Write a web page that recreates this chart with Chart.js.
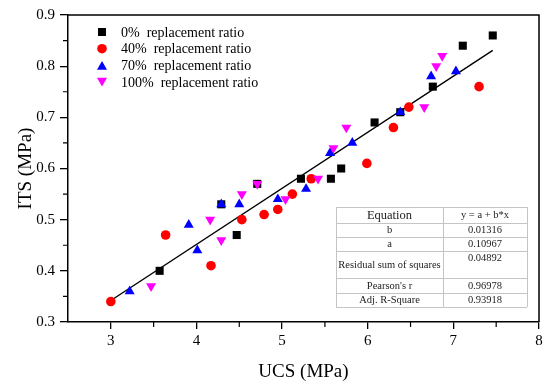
<!DOCTYPE html>
<html><head><meta charset="utf-8">
<script src="https://cdn.jsdelivr.net/npm/chart.js@4/dist/chart.umd.min.js"></script>
<style>html,body{margin:0;padding:0;background:#fff}</style>
</head><body>
<canvas id="c" width="550" height="387"></canvas>
<script>
// ---- data ----
const seriesNames = ['0%  replacement ratio', '40%  replacement ratio', '70%  replacement ratio', '100%  replacement ratio'];
const ucs0 = [3.57, 4.29, 4.47, 4.71, 5.22, 5.57, 5.69, 6.08, 6.38, 6.76, 7.11, 7.46];
const its0 = [0.40, 0.53, 0.47, 0.57, 0.58, 0.58, 0.60, 0.69, 0.71, 0.76, 0.84, 0.86];
const ucs40 = [3.00, 3.64, 4.17, 4.53, 4.79, 4.95, 5.12, 5.34, 5.99, 6.30, 6.48, 7.30];
const its40 = [0.34, 0.47, 0.41, 0.50, 0.51, 0.52, 0.55, 0.58, 0.61, 0.68, 0.72, 0.76];
const ucs70 = [3.22, 3.91, 4.01, 4.29, 4.50, 4.95, 5.28, 5.56, 5.82, 6.38, 6.74, 7.03];
const its70 = [0.36, 0.49, 0.44, 0.53, 0.53, 0.54, 0.56, 0.63, 0.65, 0.71, 0.78, 0.79];
const ucs100 = [3.47, 4.16, 4.29, 4.53, 4.71, 5.04, 5.42, 5.60, 5.75, 6.66, 6.80, 6.87];
const its100 = [0.37, 0.50, 0.46, 0.55, 0.57, 0.54, 0.58, 0.64, 0.68, 0.72, 0.80, 0.82];
const fitLineX = [3.00, 7.46];
const fitLineY = [0.342, 0.831];
const xTicks = [3, 4, 5, 6, 7, 8];
const yTicks = [0.3, 0.4, 0.5, 0.6, 0.7, 0.8, 0.9];
const xMinorTicks = [3.5, 4.5, 5.5, 6.5, 7.5];
const yMinorTicks = [0.35, 0.45, 0.55, 0.65, 0.75, 0.85];
const tableLabels = ['Equation', 'b', 'a', 'Residual sum of squares', "Pearson's r", 'Adj. R-Square'];
const tableValues = ['y = a + b*x', '0.01316', '0.10967', '0.04892', '0.96978', '0.93918'];

// ---- styling ----
const colors = ['#000000', '#ff0000', '#0000ff', '#ff00ff'];
const styles = ['rect', 'circle', 'triangle', 'triangle'];
const rotations = [0, 0, 0, 180];
const radii = [5.7, 4.8, 5.8, 5.8];
const SERIF = '"Liberation Serif", "Times New Roman", serif';

const zip = (xs, ys) => xs.map((x, i) => ({x: x, y: ys[i]}));
const seriesX = [ucs0, ucs40, ucs70, ucs100];
const seriesY = [its0, its40, its70, its100];

const datasets = seriesX.map((xs, i) => ({
  type: 'scatter',
  label: seriesNames[i],
  data: zip(xs, seriesY[i]),
  pointStyle: styles[i],
  rotation: rotations[i],
  pointRadius: radii[i],
  backgroundColor: colors[i],
  borderColor: colors[i],
  borderWidth: 0,
  order: 4 - i
}));
datasets.push({
  type: 'line',
  label: 'fit',
  data: zip(fitLineX, fitLineY),
  borderColor: '#000',
  borderWidth: 1.4,
  pointRadius: 0,
  fill: false,
  order: 10
});

function drawMarker(ctx, style, rot, x, y, r, color) {
  ctx.save();
  ctx.fillStyle = color;
  ctx.beginPath();
  if (style === 'rect') {
    const s = Math.SQRT1_2 * r;
    ctx.rect(x - s, y - s, 2 * s, 2 * s);
  } else if (style === 'circle') {
    ctx.arc(x, y, r, 0, Math.PI * 2);
  } else {
    let a = rot * Math.PI / 180;
    ctx.moveTo(x + Math.sin(a) * r, y - Math.cos(a) * r);
    a += 2 * Math.PI / 3;
    ctx.lineTo(x + Math.sin(a) * r, y - Math.cos(a) * r);
    a += 2 * Math.PI / 3;
    ctx.lineTo(x + Math.sin(a) * r, y - Math.cos(a) * r);
    ctx.closePath();
  }
  ctx.fill();
  ctx.restore();
}

const decorPlugin = {
  id: 'decor',
  afterDraw(chart) {
    const ctx = chart.ctx;
    const a = chart.chartArea;
    const xs = chart.scales.x, ys = chart.scales.y;
    ctx.save();
    // frame top & right
    ctx.strokeStyle = '#000';
    ctx.lineWidth = 1.5;
    ctx.beginPath();
    ctx.moveTo(a.left, a.top); ctx.lineTo(a.right, a.top); ctx.lineTo(a.right, a.bottom);
    ctx.stroke();
    // minor ticks
    ctx.lineWidth = 1.2;
    ctx.beginPath();
    xMinorTicks.forEach(v => { const px = xs.getPixelForValue(v); ctx.moveTo(px, a.bottom); ctx.lineTo(px, a.bottom + 5); });
    yMinorTicks.forEach(v => { const py = ys.getPixelForValue(v); ctx.moveTo(a.left, py); ctx.lineTo(a.left - 5, py); });
    ctx.stroke();

    // legend
    const lx = a.left + 34, lt = a.top + 17, lstep = 16.7;
    ctx.font = '14px ' + SERIF;
    ctx.textBaseline = 'middle';
    ctx.textAlign = 'left';
    ctx.fillStyle = '#000';
    seriesNames.forEach((n, i) => {
      const y = lt + i * lstep;
      let my = y;
      if (styles[i] === 'triangle') my = rotations[i] ? y - 1.5 : y + 1.5;
      drawMarker(ctx, styles[i], rotations[i], lx, my, radii[i], colors[i]);
      ctx.fillStyle = '#000';
      ctx.fillText(n, lx + 19, y + 1);
    });

    // statistics table
    const tL = 336, tR = 527, tC = 443;
    const rowsY = [207, 223, 237, 251, 278, 293, 307];
    ctx.fillStyle = '#fff';
    ctx.fillRect(tL, rowsY[0], tR - tL, rowsY[6] - rowsY[0]);
    ctx.strokeStyle = '#c4c4c4';
    ctx.lineWidth = 1;
    ctx.beginPath();
    rowsY.forEach(y => { ctx.moveTo(tL, y + 0.5); ctx.lineTo(tR, y + 0.5); });
    [tL, tC, tR].forEach(x => { ctx.moveTo(x + 0.5, rowsY[0]); ctx.lineTo(x + 0.5, rowsY[6]); });
    ctx.stroke();
    ctx.fillStyle = '#222';
    ctx.textAlign = 'center';
    ctx.textBaseline = 'middle';
    tableLabels.forEach((lab, i) => {
      const top = rowsY[i], bot = rowsY[i + 1];
      let cy = (top + bot) / 2 + 0.5;
      let vy = cy;
      if (i === 3) { cy = bot - 13; vy = top + 7; }
      ctx.font = (i === 0 ? '12.5px ' : '10.5px ') + SERIF;
      ctx.fillText(lab, (tL + tC) / 2, cy);
      ctx.font = '10.5px ' + SERIF;
      ctx.fillText(tableValues[i], (tC + tR) / 2, vy);
    });
    ctx.restore();
  }
};

new Chart(document.getElementById('c'), {
  data: {datasets: datasets},
  options: {
    responsive: false,
    animation: false,
    devicePixelRatio: 1,
    layout: {padding: {top: 15, right: 11, left: 0, bottom: 0}},
    plugins: {legend: {display: false}, tooltip: {enabled: false}},
    scales: {
      x: {
        type: 'linear', position: 'bottom', min: 2.5, max: 8,
        afterBuildTicks: s => { s.ticks = xTicks.map(v => ({value: v})); },
        afterFit: s => { s.height = 65; },
        grid: {display: true, drawOnChartArea: false, drawTicks: true, tickLength: 7, color: '#000', lineWidth: 1.3},
        border: {display: true, color: '#000', width: 1.5},
        ticks: {color: '#000', font: {family: SERIF, size: 15}, padding: 3, maxRotation: 0, callback: v => String(v)},
        title: {display: true, text: 'UCS (MPa)', color: '#000', font: {family: SERIF, size: 19}, padding: {top: 0, bottom: 4}}
      },
      y: {
        type: 'linear', position: 'left', min: 0.3, max: 0.9,
        afterBuildTicks: s => { s.ticks = yTicks.map(v => ({value: v})); },
        afterFit: s => { s.width = 68; },
        grid: {display: true, drawOnChartArea: false, drawTicks: true, tickLength: 8, color: '#000', lineWidth: 1.3},
        border: {display: true, color: '#000', width: 1.5},
        ticks: {color: '#000', font: {family: SERIF, size: 15}, padding: 5, callback: v => v.toFixed(1)},
        title: {display: true, text: 'ITS (MPa)', color: '#000', font: {family: SERIF, size: 19}, padding: {top: 15, bottom: 0}}
      }
    }
  },
  plugins: [decorPlugin]
});
</script>
</body></html>
